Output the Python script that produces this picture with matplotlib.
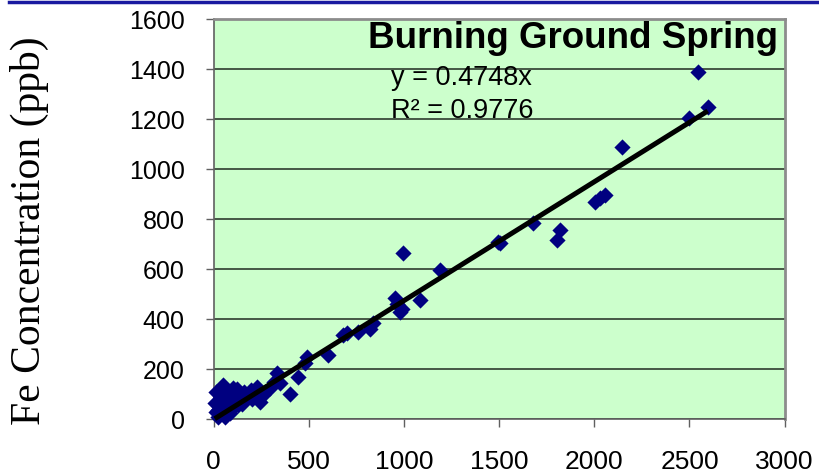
import matplotlib.pyplot as plt
from matplotlib.lines import Line2D
import numpy as np

# Burning Ground Spring: Fe vs. other element (ppb)
x_vals = [5, 10, 14, 20, 23, 30, 35, 40, 49, 58, 65, 70, 84, 84, 90, 100,
          110, 120, 128, 146, 150, 160, 172, 180, 198, 200, 225, 230, 242,
          260, 270, 295, 315, 330, 347, 400, 444, 479, 488, 602, 681, 700,
          760, 821, 838, 953, 965, 979, 990, 996, 1084, 1189, 1495, 1505,
          1680, 1804, 1821, 2005, 2030, 2058, 2146, 2496, 2544, 2596]
y_vals = [65, 30, 110, 10, 37, 20, 60, 90, 137, 10, 50, 110, 25, 77, 40, 125,
          104, 120, 57, 77, 60, 110, 97, 90, 117, 80, 130, 100, 70,
          97, 110, 125, 150, 184, 144, 100, 170, 224, 250, 257, 337, 345,
          350, 360, 384, 484, 460, 430, 440, 666, 477, 597, 710, 704,
          784, 717, 757, 870, 885, 897, 1090, 1204, 1390, 1250]

slope = 0.4748
r_squared = 0.9776

x_ticks = [0, 500, 1000, 1500, 2000, 2500, 3000]
y_ticks = [0, 200, 400, 600, 800, 1000, 1200, 1400, 1600]

fig = plt.figure(figsize=(8.19, 4.76), dpi=100)
ax = fig.add_axes([0.261, 0.119, 0.697, 0.841])
ax.set_facecolor("#ccffcc")

ax.set_xlim(0, 3000)
ax.set_ylim(0, 1600)
ax.set_xticks(x_ticks)
ax.set_yticks(y_ticks)

# grid horizontal uniquement
ax.yaxis.grid(True, color="#3a4a3a", linewidth=1.3)
ax.set_axisbelow(True)

ax.scatter(x_vals, y_vals, marker="D", s=68, color="#000080", zorder=3,
           linewidths=0, clip_on=False)

# ligne de tendance (ordonnée à l'origine = 0)
xt = np.array([min(x_vals), max(x_vals)])
ax.plot(xt, slope * xt, color="black", linewidth=3.6, zorder=4,
        solid_capstyle="butt", clip_on=False)

ax.text(0.988, 0.927, "Burning Ground Spring", transform=ax.transAxes,
        ha="right", va="baseline", fontsize=26.5, fontweight="bold",
        family="Liberation Sans", color="black")
ax.text(0.31, 0.835, f"y = {slope}x", transform=ax.transAxes,
        ha="left", va="baseline", fontsize=19.5, family="Liberation Sans")
ax.text(0.31, 0.753, f"R² = {r_squared}", transform=ax.transAxes,
        ha="left", va="baseline", fontsize=19.5, family="Liberation Sans")

for side in ["left", "bottom"]:
    ax.spines[side].set_color("#606060")
    ax.spines[side].set_linewidth(1.2)
for side in ["top", "right"]:
    ax.spines[side].set_color("#8c8c8c")
    ax.spines[side].set_linewidth(2)

ax.tick_params(axis="y", direction="out", length=6, width=1, color="#606060",
               pad=15, labelsize=18)
ax.tick_params(axis="x", direction="out", length=6, width=1, color="#606060",
               pad=16, labelsize=19)
for lab in ax.get_xticklabels() + ax.get_yticklabels():
    lab.set_family("Liberation Sans")

fig.text(0.036, 0.515, "Fe Concentration (ppb)", rotation=90,
         ha="center", va="center", fontsize=30, family="Liberation Serif")

# ligne bleue en haut de la diapo
fig.add_artist(Line2D([0.011, 1.0], [0.996, 0.996], color="#1a1aa0",
                      linewidth=2.5, transform=fig.transFigure))

fig.savefig("out.png", dpi=100)
plt.close(fig)
